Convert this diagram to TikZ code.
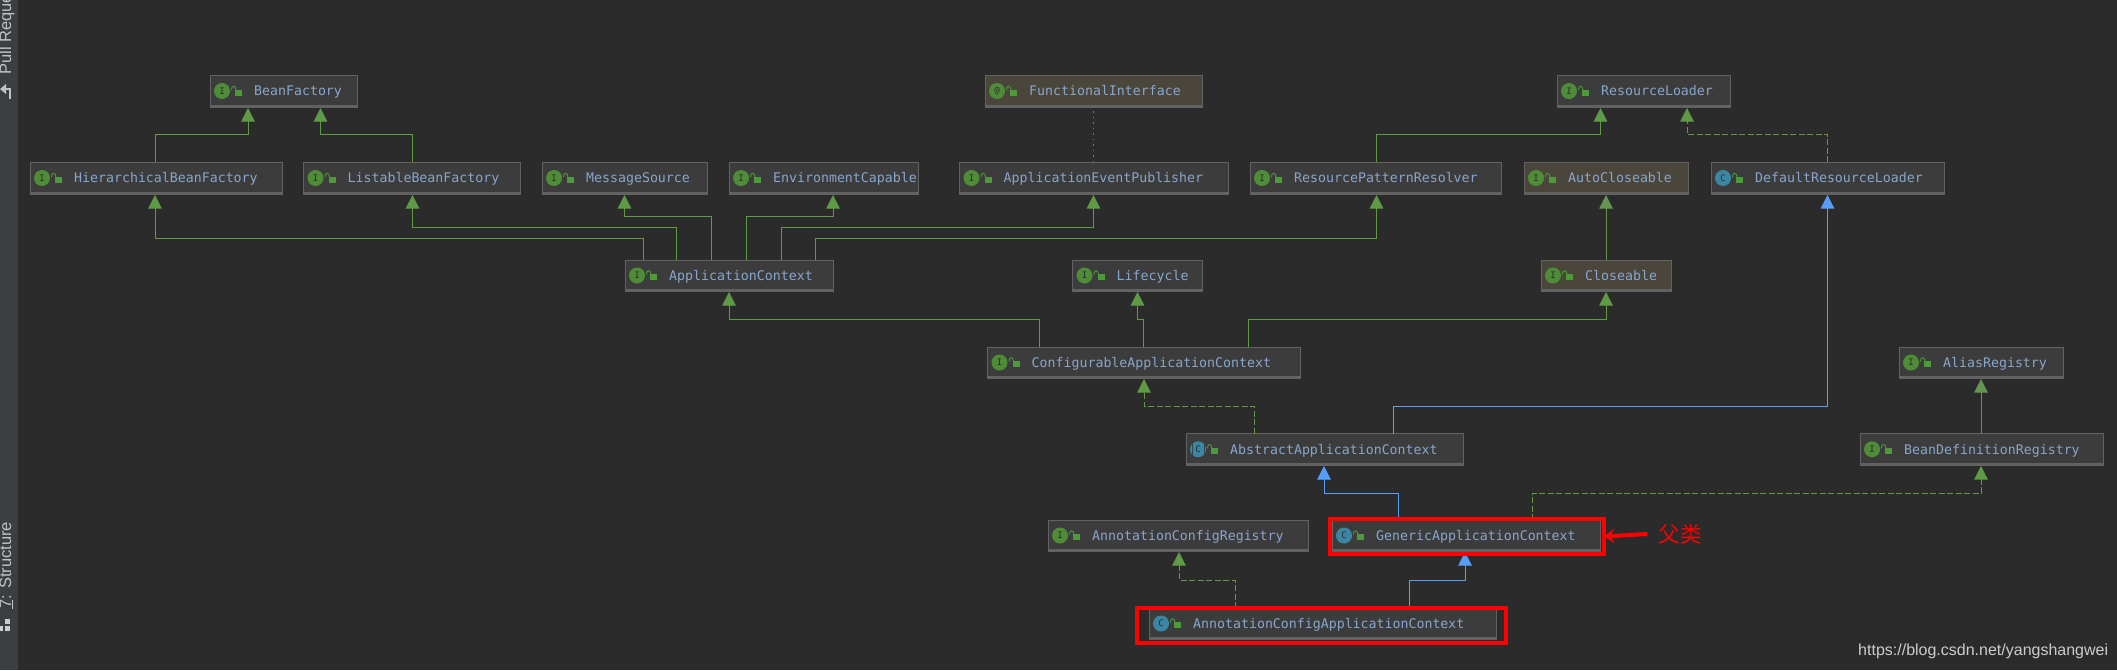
\documentclass[tikz,border=0pt]{standalone}
\usepackage{fontspec}
\setmainfont{Liberation Sans}
\newfontfamily\monof{DejaVu Sans Mono}
\newfontfamily\cjkf{Noto Sans CJK SC}
\usetikzlibrary{arrows.meta}
\definecolor{bgc}{HTML}{2B2B2B}
\definecolor{sidec}{HTML}{3C3F41}
\definecolor{boxf}{HTML}{3C3C3C}
\definecolor{yelf}{HTML}{4A463C}
\definecolor{boxl}{HTML}{626262}
\definecolor{txtc}{HTML}{88A6CC}
\definecolor{grn}{HTML}{5F9A47}
\definecolor{blu}{HTML}{589DF6}
\definecolor{icg}{HTML}{4F8C38}
\definecolor{icb}{HTML}{3B87A3}
\definecolor{lockc}{HTML}{4E9A3A}
\definecolor{olv}{HTML}{7E7E2E}
\definecolor{sidet}{HTML}{BCC2C8}
\tikzset{
  x=1pt,y=-1pt,
  clsbox/.style={draw=boxl,line width=1pt,fill=boxf,inner sep=0pt,outer sep=0pt},
  yelbox/.style={clsbox,fill=yelf},
  lbl/.style={anchor=west,inner sep=0pt,text=txtc,font=\monof\fontsize{13.25}{15}\selectfont,text height=10pt,text depth=3pt},
  iconI/.style={circle,fill=icg,inner sep=0pt,minimum size=16pt,text=bgc,font=\monof\fontsize{9}{10}\selectfont},
  iconC/.style={iconI,fill=icb},
  ext/.style={draw=grn,line width=1pt,-{Triangle[length=13.5pt,width=13.5pt]},shorten >=1pt},
  impl/.style={ext,dash pattern=on 6pt off 2.5pt},
  sup/.style={ext,draw=blu},
  grnline/.style={ext,draw=grn!80!gray},
  dotl/.style={draw=olv,line width=1pt,dash pattern=on 1.5pt off 4pt},
  redbox/.style={draw=red,line width=4pt,inner sep=0pt,outer sep=0pt},
  sidetxt/.style={rotate=90,anchor=base west,inner sep=0pt,text=sidet,font=\fontsize{16.5}{18}\selectfont},
}
% name, x0, y0, x1, y1, text, box style, icon style, icon letter
\newcommand\cls[9]{%
  \pgfmathsetmacro{\mycx}{(#2+#4)/2}%
  \pgfmathsetmacro{\mycy}{(#3+#5)/2}%
  \pgfmathsetmacro{\myw}{#4-#2}%
  \pgfmathsetmacro{\myh}{#5-#3}%
  \node[#7,minimum width=\myw pt,minimum height=\myh pt] (#1) at (\mycx,\mycy) {};
  \draw[boxl,line width=2pt] ([yshift=1pt]#1.south west) -- ([yshift=1pt]#1.south east);
  \node[#8] (#1-i) at ([xshift=12pt]#1.west) {#9};
  \fill[lockc] ([xshift=25pt,yshift=-4.5pt]#1.west) rectangle ([xshift=32pt,yshift=1.5pt]#1.west);
  \draw[lockc,line width=.9pt] ([xshift=26pt,yshift=1pt]#1.west) .. controls ([xshift=26pt,yshift=6pt]#1.west) and ([xshift=21pt,yshift=6pt]#1.west) .. ([xshift=21.5pt,yshift=1pt]#1.west);
  \node[lbl] (#1-t) at ([xshift=44pt,yshift=-1.3pt]#1.west) {#6};
}
% style, source, source x, middle y, target, target x
\newcommand\conn[6]{%
  \coordinate (csx) at (#3,0);
  \coordinate (cdx) at (#6,0);
  \coordinate (cmy) at (0,#4);
  \draw[#1] (#2.north -| csx) -- (csx |- cmy) -- (cdx |- cmy) -- (#5.south -| cdx);
}
\begin{document}
\begin{tikzpicture}
\useasboundingbox (0,0) rectangle (2117,670);
\fill[bgc] (0,0) rectangle (2117,670);
\fill[sidec] (0,0) rectangle (18,670);
\begin{scope}
\clip (0,0) rectangle (18,670);
\node[sidetxt] (pull) at (11,75) {Pull Reque};
\node[sidetxt] (struct) at (11,609) {\underline{7}: Structure};
\draw[sidet,line width=2.5pt] (10,99) -- (10,89) -- (3,89);
\fill[sidet] (6,84) -- (0,89) -- (6,94) -- cycle;
\fill[sidet!80] (5,619) rectangle (10,624);
\fill[sidet!80] (0,626) rectangle (3,631);
\fill[sidet!80] (5,626) rectangle (10,631);
\end{scope}

\cls{bf}{210}{75}{357.5}{107}{BeanFactory}{clsbox}{iconI}{I}
\cls{fi}{985}{75}{1202.5}{107}{FunctionalInterface}{yelbox}{iconI}{@}
\cls{rl}{1557}{75}{1730.5}{107}{ResourceLoader}{clsbox}{iconI}{I}
\cls{hbf}{30}{162}{282}{194}{HierarchicalBeanFactory}{clsbox}{iconI}{I}
\cls{lbf}{303.5}{162}{520.5}{194}{ListableBeanFactory}{clsbox}{iconI}{I}
\cls{ms}{542}{162}{707}{194}{MessageSource}{clsbox}{iconI}{I}
\cls{ec}{729}{162}{918}{194}{EnvironmentCapable}{clsbox}{iconI}{I}
\cls{aep}{959.5}{162}{1228}{194}{ApplicationEventPublisher}{clsbox}{iconI}{I}
\cls{rpr}{1250}{162}{1501.5}{194}{ResourcePatternResolver}{clsbox}{iconI}{I}
\cls{ac}{1524}{162}{1688.5}{194}{AutoCloseable}{yelbox}{iconI}{I}
\cls{drl}{1711}{162}{1944}{194}{DefaultResourceLoader}{clsbox}{iconC}{C}
\cls{app}{625}{260}{833}{291}{ApplicationContext}{clsbox}{iconI}{I}
\cls{lc}{1072.5}{260}{1202.5}{291}{Lifecycle}{clsbox}{iconI}{I}
\cls{cl}{1541}{260}{1671}{291}{Closeable}{yelbox}{iconI}{I}
\cls{cac}{987.5}{347}{1300}{378}{ConfigurableApplicationContext}{clsbox}{iconI}{I}
\cls{ar}{1899}{347}{2063.5}{378}{AliasRegistry}{clsbox}{iconI}{I}
\cls{aac}{1186}{433.5}{1463}{465}{AbstractApplicationContext}{clsbox}{iconC}{C}
\cls{bdr}{1860}{433.5}{2103}{465}{BeanDefinitionRegistry}{clsbox}{iconI}{I}
\cls{acr}{1048}{520}{1308.5}{551}{AnnotationConfigRegistry}{clsbox}{iconI}{I}
\cls{gac}{1332}{520}{1600}{551}{GenericApplicationContext}{clsbox}{iconC}{C}
\cls{acac}{1149}{608}{1496}{639}{AnnotationConfigApplicationContext}{clsbox}{iconC}{C}
\draw[bgc!70!icb,line width=1pt] ([xshift=-6pt,yshift=-6pt]aac-i.center) -- ([xshift=-6pt,yshift=6pt]aac-i.center);
\draw[bgc!70!icb,line width=1pt] ([xshift=6pt,yshift=-6pt]aac-i.center) -- ([xshift=6pt,yshift=6pt]aac-i.center);

\conn{ext}{hbf}{155}{134}{bf}{248}
\conn{ext}{lbf}{412.5}{134}{bf}{320.5}
\conn{ext}{app}{643}{238}{hbf}{155}
\conn{ext}{app}{676.5}{227}{lbf}{412.5}
\conn{ext}{app}{711.5}{216.5}{ms}{624.5}
\conn{ext}{app}{746}{216.5}{ec}{833}
\conn{ext}{app}{781.5}{227}{aep}{1093.5}
\conn{ext}{app}{815}{238}{rpr}{1376.5}
\draw[dotl] (aep.north -| fi.south) -- (fi.south);
\conn{ext}{rpr}{1376.5}{134}{rl}{1600.5}
\conn{impl}{drl}{1827.5}{134}{rl}{1687}
\conn{grnline}{cl}{1606}{230}{ac}{1606}
\conn{ext}{cac}{1039}{319}{app}{729}
\conn{ext}{cac}{1143}{319}{lc}{1137.5}
\conn{ext}{cac}{1248.5}{319}{cl}{1606}
\conn{impl}{aac}{1254}{406}{cac}{1144}
\conn{sup}{aac}{1393}{406}{drl}{1827.5}
\conn{sup}{gac}{1398}{493}{aac}{1324}
\conn{impl}{gac}{1532}{493}{bdr}{1981}
\conn{grnline}{bdr}{1981}{406}{ar}{1981}
\conn{impl}{acac}{1235}{580}{acr}{1179}
\conn{sup}{acac}{1409.5}{580}{gac}{1465}

\node[redbox,minimum width=274pt,minimum height=35pt] (gacred) at (1467,536.5) {};
\node[redbox,minimum width=369pt,minimum height=35pt] (acacred) at (1321.5,625.5) {};
\node[inner sep=0pt,text=red,font=\cjkf\fontsize{21.5}{24}\selectfont] (fu) at (1680,534) {父类};
\draw[red,line width=4pt,-{Stealth[length=10pt,width=14pt]}] ([xshift=-11pt]fu.west) -- (gacred.east);
\node[anchor=base west,inner sep=0pt,text=white!80!black,font=\fontsize{16}{18}\selectfont] (wm) at (1858,655) {https://blog.csdn.net/yangshangwei};
\end{tikzpicture}
\end{document}
